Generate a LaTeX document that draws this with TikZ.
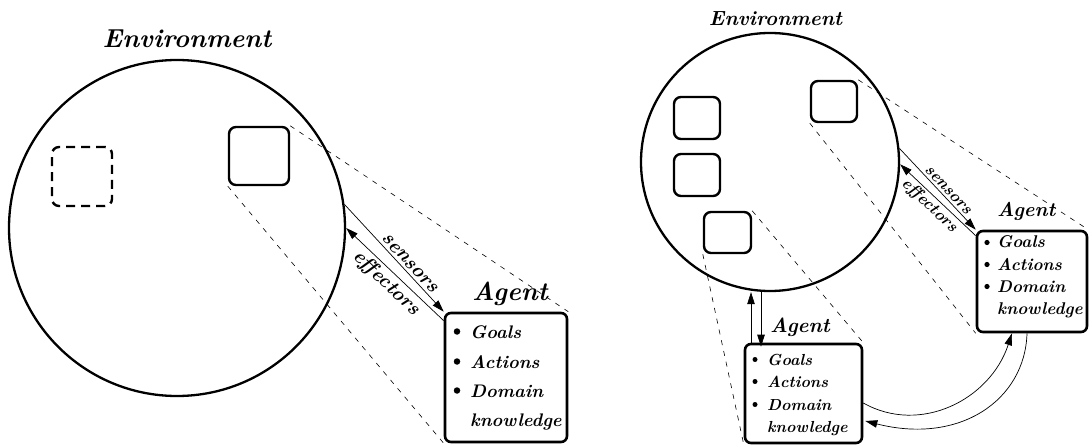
\documentclass[tikz,border=0pt]{standalone}
\usetikzlibrary{arrows.meta,calc}
\newcommand\fsz[1]{\fontsize{#1}{#1}\selectfont\bfseries\itshape}
\begin{document}
\begin{tikzpicture}[x=1pt,y=-1pt,
  env/.style={circle,draw,line width=2.3pt,inner sep=0pt},
  obj/.style={draw,rounded corners=7pt,line width=2.4pt,inner sep=0pt},
  ghost/.style={obj,dash pattern=on 9pt off 6pt},
  agentbox/.style={draw,rounded corners=6pt,line width=2.6pt,inner sep=0pt},
  txt/.style={inner sep=0pt,anchor=base west},
  zoomline/.style={line width=0.6pt,dash pattern=on 5pt off 6pt},
  flow/.style={line width=0.7pt},
  tip/.style={-{Triangle[length=12pt,width=7.5pt]}},
  pit/.style={{Triangle[length=12pt,width=7.5pt]}-},
  dot/.style={circle,fill,inner sep=0pt,minimum size=#1},
  dot/.default=6pt,
]
\useasboundingbox (0,0) rectangle (1089,446);

% ---------- left: one agent ----------
\node[env,minimum size=336pt] (envL) at (177,228) {};
\node[txt,anchor=base,font=\fsz{26}] (envLt) at (187,48) {Environment};
\node[ghost,minimum width=60pt,minimum height=59pt] (ghostL) at (82,176.5) {};
\node[obj,minimum width=60pt,minimum height=58pt] (selfL) at (259,156) {};
\node[agentbox,minimum width=122pt,minimum height=129pt] (agL) at (506,377.5) {};
\node[txt,font=\fsz{26}] (agLt) at (472,300) {Agent};
\foreach \t/\y [count=\i] in {Goals/338,Actions/368,Domain/397,knowledge/426}
  \node[txt,font=\fsz{18.2}] (agLi\i) at (470,\y) {\t};
\foreach \y [count=\i] in {338,368,397}
  \node[dot=6.5pt] (agLb\i) at (457,\y-6.5) {};

\draw[zoomline] (selfL.north east) -- (agL.north east);
\draw[zoomline] (selfL.south west) -- (agL.south west);
\coordinate (effL) at ($(agL.north west)+(0,9)$);
\draw[flow,tip] (envL.8) -- node[sloped,above,pos=0.6,inner sep=3pt,font=\fsz{20}] (senL) {sensors} (agL.north west);
\draw[flow,pit] (envL.0) -- node[sloped,below,pos=0.5,inner sep=3pt,font=\fsz{20}] (effLt) {effectors} (effL);

% ---------- right: several agents ----------
\node[env,minimum size=258pt] (envR) at (770,162) {};
\node[txt,anchor=base,font=\fsz{20.5}] (envRt) at (775.5,26) {Environment};
\node[obj,minimum width=46pt,minimum height=41pt] (objA) at (834,101.5) {};
\node[obj,minimum width=46pt,minimum height=42pt] (objB) at (697,118) {};
\node[obj,minimum width=46pt,minimum height=42pt] (objC) at (697,175) {};
\node[obj,minimum width=47pt,minimum height=41pt] (objD) at (727.5,232.5) {};

% agent on the right
\node[agentbox,minimum width=110pt,minimum height=101pt] (agR) at (1032,281.5) {};
\node[txt,font=\fsz{20}] (agRt) at (997,217) {Agent};
\foreach \t/\y [count=\i] in {Goals/248,Actions/270,Domain/292,knowledge/314}
  \node[txt,font=\fsz{17}] (agRi\i) at (997,\y) {\t};
\foreach \y [count=\i] in {248,270,292}
  \node[dot=5.2pt] (agRb\i) at (987,\y-5.5) {};

% agent below
\node[agentbox,minimum width=117pt,minimum height=99pt] (agB) at (803.5,393.5) {};
\node[txt,font=\fsz{20.5}] (agBt) at (770,332) {Agent};
\foreach \t/\y [count=\i] in {Goals/365,Actions/387,Domain/410,knowledge/432}
  \node[txt,font=\fsz{16}] (agBi\i) at (767,\y) {\t};
\foreach \y [count=\i] in {365,387,410}
  \node[dot=5pt] (agBb\i) at (755,\y-5.5) {};

\draw[zoomline] (objA.north east) -- (agR.north east);
\draw[zoomline] (objA.south west) -- (agR.south west);
\draw[zoomline] (objD.north east) -- (agB.north east);
\draw[zoomline] (objD.south west) -- (agB.south west);

\coordinate (effR) at ($(agR.north west)+(0,6)$);
\draw[flow,tip] (envR.6) -- node[sloped,above,pos=0.57,inner sep=2.5pt,font=\fsz{16.5}] (senR) {sensors} (agR.north west);
\draw[flow,pit] (envR.-1) -- node[sloped,below,pos=0.48,inner sep=2.5pt,font=\fsz{16.5}] (effRt) {effectors} (effR);

% links between the lower agent and the environment
\coordinate (upB) at (agB.north -| 751,0);
\coordinate (dnB) at (agB.north -| 761,0);
\draw[flow,tip] (upB) -- (upB |- envR.south);
\draw[flow,tip] (dnB |- envR.south) -- ([yshift=-4pt]dnB);

% messages between the two agents
\coordinate (bOut) at (agB.east |- 0,403);
\coordinate (rIn) at (agR.south -| 1012,0);
\coordinate (rOut) at (agR.south -| 1027,0);
\coordinate (bIn) at (agB.east |- 0,421);
\draw[flow,tip] (bOut) .. controls (920,435) and (990,400) .. (rIn);
\draw[flow,tip] (rOut) .. controls (1025,400) and (960,445) .. ([xshift=2pt]bIn);
\end{tikzpicture}
\end{document}
